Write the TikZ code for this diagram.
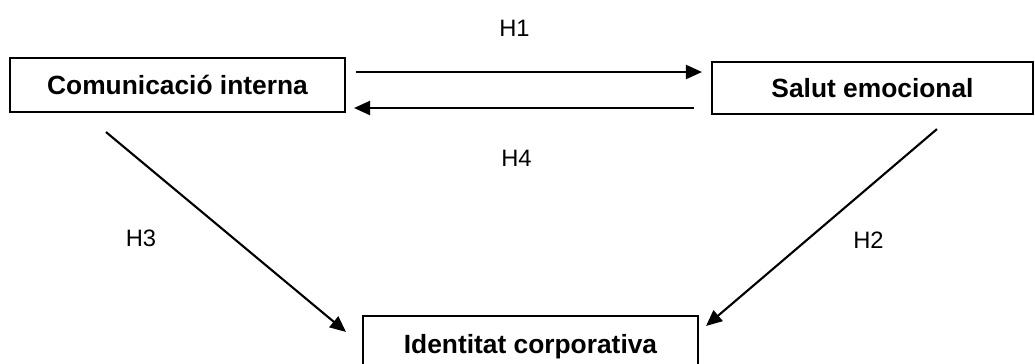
\documentclass[tikz,border=0pt]{standalone}
\usepackage{fontspec}
\setmainfont{Liberation Sans}
\usepackage{tikz}
\usetikzlibrary{arrows.meta,positioning,calc}

\begin{document}
\begin{tikzpicture}[
x=0.02cm, y=-0.02cm,
factor/.style={
rectangle,
draw,
line width=1.2pt,
inner sep=0pt,
font=\fontsize{15}{17}\selectfont\bfseries
},
arrow/.style={
-{Triangle[length=0.32cm,width=0.28cm]},
line width=1.2pt
},
hyp/.style={
font=\fontsize{13.5}{16}\selectfont
}
]
\useasboundingbox (0,0) rectangle (1035,363);
% Factors
\node[factor, minimum width=6.7cm, minimum height=1.08cm] (comunicacio) at (177.5,85) {Comunicació interna};
\node[factor, minimum width=6.42cm, minimum height=1.04cm] (salut) at (872.5,88) {Salut emocional};
\node[factor, minimum width=6.7cm, minimum height=1.2cm, text depth=0.1cm] (identitat) at (530.5,346) {Identitat corporativa};

% Hipòtesis
\draw[arrow, shorten <=0.2cm, shorten >=0.18cm] ([yshift=0.26cm]comunicacio.east) -- ([yshift=0.26cm]comunicacio.east -| salut.west) node[midway, hyp, yshift=0.88cm, xshift=-0.28cm] {H1};
\draw[arrow, shorten <=0.34cm, shorten >=0.16cm] ([yshift=-0.4cm]salut.west) -- ([yshift=-0.4cm]salut.west -| comunicacio.east) node[midway, hyp, yshift=-1.0cm, xshift=-0.24cm] {H4};
\draw[arrow] ($(comunicacio.south west)+(97,19)$) -- ($(identitat.north west)+(-16,17)$) node[midway, hyp, xshift=-1.7cm, yshift=-0.12cm] {H3};
\draw[arrow] ($(salut.south)+(64.5,14)$) -- ($(identitat.north east)+(7,11)$) node[midway, hyp, xshift=0.94cm, yshift=-0.25cm] {H2};
\end{tikzpicture}
\end{document}
